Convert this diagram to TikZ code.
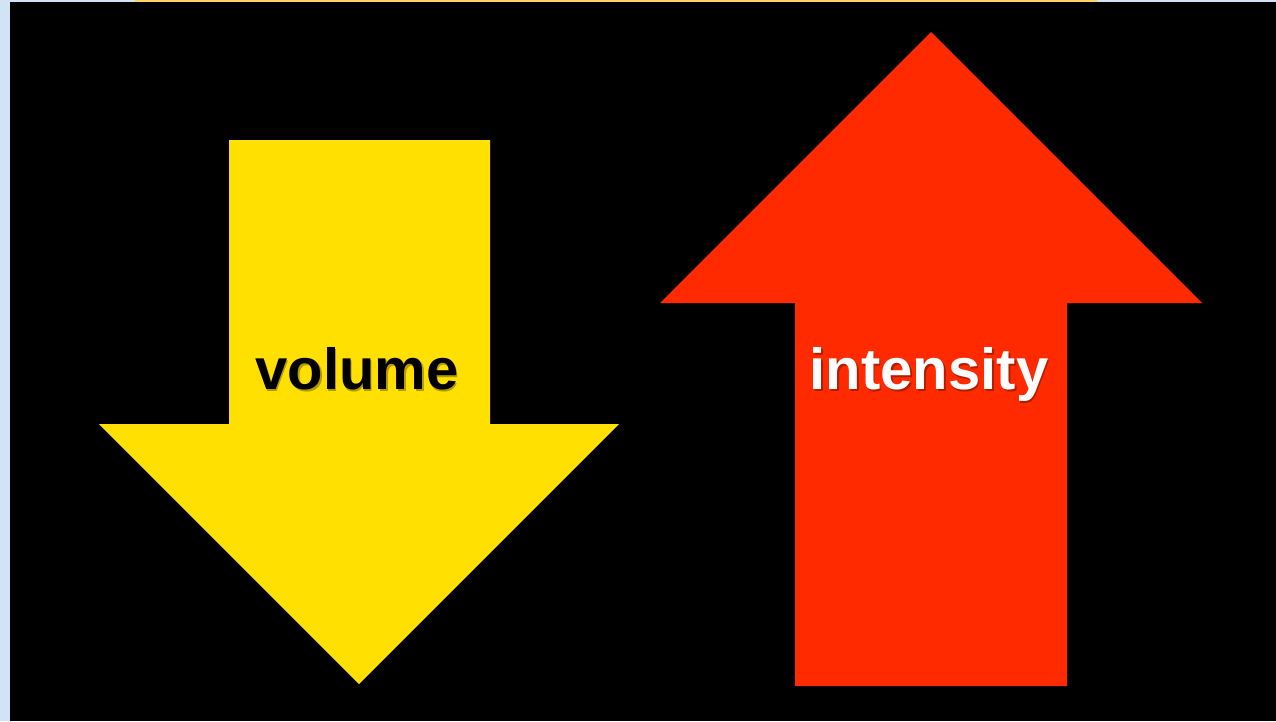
\documentclass[tikz,border=0pt]{standalone}
\usepackage{fontspec}
\setmainfont{Liberation Sans}
\definecolor{arrowyellow}{HTML}{FFE000}
\definecolor{arrowred}{HTML}{FF2A00}
\definecolor{paleblue}{HTML}{D2E3F6}
\definecolor{stripgold}{HTML}{FFD36A}
\tikzset{
  lbl/.style={font=\fontsize{58}{60}\selectfont\bfseries, inner sep=0pt, anchor=base},
  shadowtxt/.style={lbl, text=black, opacity=0.3},
}
\begin{document}
\begin{tikzpicture}[x=1pt,y=-1pt]
\useasboundingbox (0,0) rectangle (1276,721);
% frame
\fill[paleblue] (0,0) rectangle (1276,721);
\fill[stripgold] (135,0) rectangle (1097,2);
\fill[black] (10,2) rectangle (1276,721);
% yellow arrow (down)
\fill[arrowyellow] (229,140) -- (490,140) -- (490,424) -- (619,424) -- (359,684)
  -- (99,424) -- (229,424) -- cycle;
% red arrow (up)
\fill[arrowred] (931,32) -- (1202,303) -- (1067,303) -- (1067,686) -- (795,686)
  -- (795,303) -- (660,303) -- cycle;
% labels
\node[shadowtxt] (vs) at (358.5,391.5) {volume};
\node[lbl, text=black] (v) at (357,389) {volume};
\node[shadowtxt] (is) at (930.5,391.5) {intensity};
\node[lbl, text=white] (i) at (929,389) {intensity};
\end{tikzpicture}
\end{document}
